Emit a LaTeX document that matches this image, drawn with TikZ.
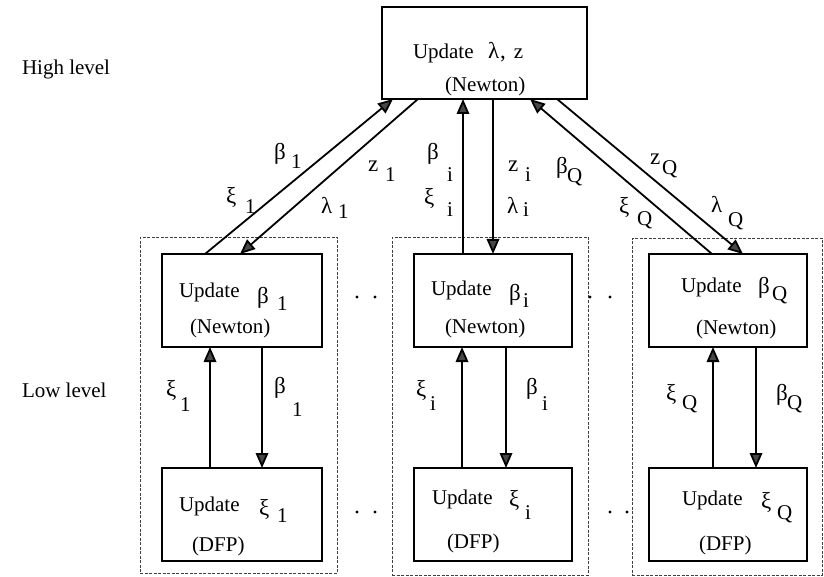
\documentclass[tikz,border=0pt]{standalone}
\usepackage{fontspec}
\setmainfont{Liberation Serif}
\usetikzlibrary{arrows.meta}

% a Greek letter with its lowered index, as two text nodes
\newcommand\sublab[7]{%
  \node[lbl, greek] (#1g) at (#2,#3) {#4};
  \node[lbl] (#1s) at (#5,#6) {#7};}

\begin{document}
\begin{tikzpicture}[x=1pt,y=-1pt,
  every node/.style={font=\fontsize{21}{25}\selectfont, inner sep=0pt, outer sep=0pt},
  lbl/.style={anchor=base west},
  greek/.style={font=\fontsize{23}{27}\selectfont},
  procbox/.style={draw, line width=2pt, minimum width=#1, minimum height=93pt},
  group/.style={draw=black!75, line width=0.8pt, dash pattern=on 3pt off 1.5pt},
  link/.style={line width=1.8pt, -{Triangle[length=15pt,width=12.5pt,fill=black!72]}},
  dot/.style={fill=black}
]
\path[fill=white, use as bounding box] (0,0) rectangle (824,577);

% level captions
\node[lbl] (hi) at (22,75) {High level};
\node[lbl] (lo) at (22,397) {Low level};

% dashed subsystem frames
\node[group, minimum width=197pt, minimum height=336pt] (g1) at (238.5,405) {};
\node[group, minimum width=196pt, minimum height=338pt] (g2) at (490,406) {};
\node[group, minimum width=190pt, minimum height=337pt] (g3) at (727,406.5) {};

% coordinator
\node[procbox=205pt, minimum height=92pt] (top) at (484.5,53) {};
\node[lbl] (topA) at (413,59) {Update};
\node[lbl] (topB) at (488,59) {\fontsize{23}{27}\selectfont λ\kern1pt,\kern8pt \fontsize{21}{25}\selectfont z};
\node[lbl] (topC) at (445,92) {(Newton)};

% subsystem boxes
\node[procbox=160pt] (n1) at (242,300.5) {};
\node[procbox=160pt] (d1) at (242,514.5) {};
\node[procbox=158pt] (n2) at (493,300.5) {};
\node[procbox=158pt] (d2) at (493,514.5) {};
\node[procbox=158pt] (n3) at (728,300.5) {};
\node[procbox=158pt] (d3) at (728,514.5) {};

% texts in subsystem 1
\node[lbl] (n1a) at (179,297) {Update};
\sublab{n1b}{257}{303}{β}{277}{310}{1}
\node[lbl] (n1c) at (190,333) {(Newton)};
\node[lbl] (d1a) at (179,511) {Update};
\sublab{d1b}{259}{515}{ξ}{277}{522}{1}
\node[lbl] (d1c) at (192,551) {(DFP)};

% texts in subsystem i
\node[lbl] (n2a) at (431,295) {Update};
\sublab{n2b}{509}{300}{β}{523}{307}{i}
\node[lbl] (n2c) at (445,333) {(Newton)};
\node[lbl] (d2a) at (432,504) {Update};
\sublab{d2b}{509}{506}{ξ}{525}{519}{i}
\node[lbl] (d2c) at (447,548) {(DFP)};

% texts in subsystem Q
\node[lbl] (n3a) at (681,292) {Update};
\sublab{n3b}{758}{293}{β}{772}{300}{Q}
\node[lbl] (n3c) at (696,334) {(Newton)};
\node[lbl] (d3a) at (682,505) {Update};
\sublab{d3b}{761}{508}{ξ}{777}{519}{Q}
\node[lbl] (d3c) at (699,550) {(DFP)};

% links between the coordinator and the subsystems
\draw[link] ([xshift=43pt]n1.north west) -- ([xshift=11pt]top.south west);
\draw[link] ([xshift=36pt]top.south west) -- ([xshift=78pt]n1.north west);
\draw[link] ([xshift=49pt]n2.north west) -- ([xshift=81pt]top.south west);
\draw[link] ([xshift=111pt]top.south west) -- ([xshift=79pt]n2.north west);
\draw[link] ([xshift=63pt]n3.north west) -- ([xshift=148pt]top.south west);
\draw[link] ([xshift=175pt]top.south west) -- ([xshift=94pt]n3.north west);

% links inside each subsystem
\draw[link] ([xshift=48pt]d1.north west) -- ([xshift=48pt]n1.south west);
\draw[link] ([xshift=100pt]n1.south west) -- ([xshift=100pt]d1.north west);
\draw[link] ([xshift=48pt]d2.north west) -- ([xshift=48pt]n2.south west);
\draw[link] ([xshift=92pt]n2.south west) -- ([xshift=92pt]d2.north west);
\draw[link] ([xshift=64pt]d3.north west) -- ([xshift=64pt]n3.south west);
\draw[link] ([xshift=107pt]n3.south west) -- ([xshift=107pt]d3.north west);

% upper link labels
\sublab{ub1}{274}{160}{β}{291}{168.5}{1}
\sublab{ux1}{226}{204}{ξ}{245}{213.5}{1}
\sublab{uz1}{368}{172}{z}{385}{182}{1}
\sublab{ul1}{321}{213.5}{λ}{338}{219}{1}
\sublab{ubi}{427}{160}{β}{447}{182}{i}
\sublab{uxi}{424}{205}{ξ}{447}{217}{i}
\sublab{uzi}{508}{172}{z}{525}{182}{i}
\sublab{uli}{507}{214}{λ}{523}{217}{i}
\sublab{ubQ}{556}{174}{β}{567}{183}{Q}
\sublab{uxQ}{619}{214}{ξ}{637}{226}{Q}
\sublab{uzQ}{650}{165}{z}{662}{175}{Q}
\sublab{ulQ}{711}{213}{λ}{728}{227}{Q}

% lower link labels
\sublab{lx1}{166}{396}{ξ}{180}{411}{1}
\sublab{lb1}{274}{393}{β}{292}{416}{1}
\sublab{lxi}{416}{396}{ξ}{430}{410}{i}
\sublab{lbi}{526}{394}{β}{542}{410}{i}
\sublab{lxQ}{666}{400}{ξ}{682}{409}{Q}
\sublab{lbQ}{776}{400}{β}{787}{409}{Q}

% ellipsis dots between subsystems
\fill[dot] (357,297) circle (1.6);
\fill[dot] (375,297) circle (1.6);
\fill[dot] (357,512) circle (1.6);
\fill[dot] (375,512) circle (1.6);
\fill[dot] (590,297) circle (1.6);
\fill[dot] (610,297) circle (1.6);
\fill[dot] (610,512) circle (1.6);
\fill[dot] (627,512) circle (1.6);
\end{tikzpicture}
\end{document}
